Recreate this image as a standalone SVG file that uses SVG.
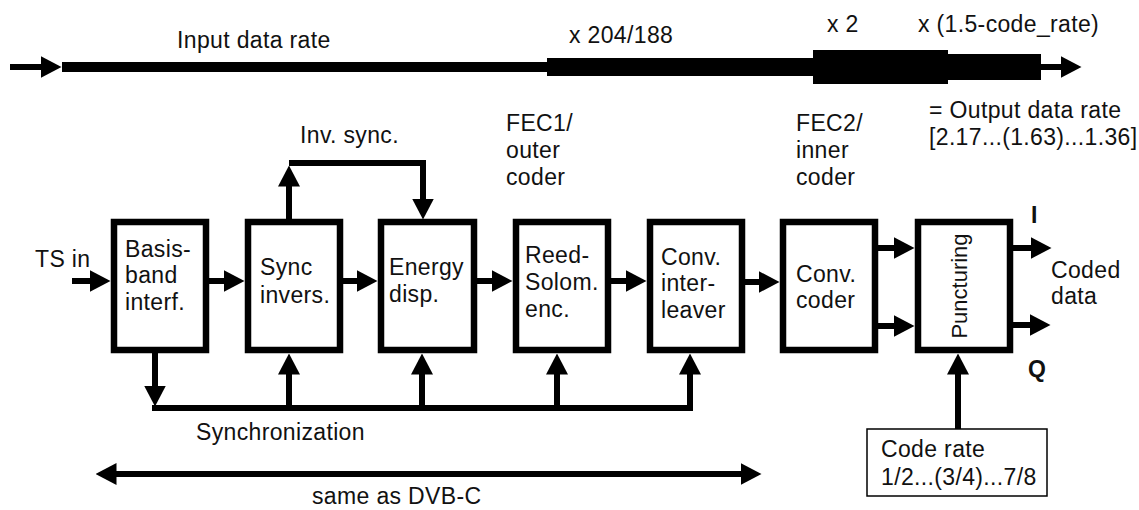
<svg xmlns="http://www.w3.org/2000/svg" width="1139" height="510" viewBox="0 0 1139 510">
<style>
text{font-family:"Liberation Sans",Arial,sans-serif;font-size:23px;letter-spacing:0.35px;fill:#111}
.b{font-weight:bold}
.rot{font-size:22px;letter-spacing:0}
.box{fill:#fff;stroke:#000;stroke-width:6.5}
.thin{fill:#fff;stroke:#000;stroke-width:1.5}
.c{fill:none;stroke:#000;stroke-width:6}
.bar{fill:#000}
</style>
<defs>
<marker id="ah" viewBox="0 -11 21 22" refX="0.5" refY="0" markerWidth="21" markerHeight="22" markerUnits="userSpaceOnUse" orient="auto-start-reverse">
<path d="M0,-11 L21,0 L0,11 z" fill="#000"/>
</marker>
</defs>

<g id="rate-bar">
<line x1="10" y1="67" x2="41" y2="67" class="c" marker-end="url(#ah)"/>
<rect class="bar" x="62" y="62" width="486" height="10"/>
<rect class="bar" x="547" y="58" width="267" height="18"/>
<rect class="bar" x="813" y="50" width="135" height="34"/>
<rect class="bar" x="947" y="54" width="94" height="26"/>
<line x1="1040" y1="67" x2="1061" y2="67" class="c" marker-end="url(#ah)"/>
<text x="177" y="48">Input data rate</text>
<text x="569" y="43">x 204/188</text>
<text x="827" y="32">x 2</text>
<text x="918" y="32">x (1.5-code_rate)</text>
<text x="929" y="118">= Output data rate</text>
<text x="929" y="145">[2.17...(1.63)...1.36]</text>
</g>

<g id="labels">
<text x="506" y="131">FEC1/</text>
<text x="506" y="158">outer</text>
<text x="506" y="185">coder</text>
<text x="796" y="131">FEC2/</text>
<text x="796" y="158">inner</text>
<text x="796" y="185">coder</text>
<text x="300" y="143">Inv. sync.</text>
<text x="35" y="267">TS in</text>
<text x="196" y="440">Synchronization</text>
<text x="312" y="504">same as DVB-C</text>
<text class="b" x="1031" y="223">I</text>
<text class="b" x="1028" y="377">Q</text>
<text x="1051" y="278">Coded</text>
<text x="1051" y="304">data</text>
</g>

<g id="basisband">
<rect class="box" x="114" y="222" width="92" height="128"/>
<text x="125" y="257">Basis-</text>
<text x="125" y="283">band</text>
<text x="125" y="310">interf.</text>
</g>
<g id="sync-invers">
<rect class="box" x="248" y="222" width="92" height="128"/>
<text x="260" y="275">Sync</text>
<text x="260" y="303">invers.</text>
</g>
<g id="energy-disp">
<rect class="box" x="381" y="222" width="93" height="128"/>
<text x="389" y="275">Energy</text>
<text x="389" y="302">disp.</text>
</g>
<g id="reed-solomon">
<rect class="box" x="516" y="222" width="92" height="128"/>
<text x="525" y="263">Reed-</text>
<text x="525" y="290">Solom.</text>
<text x="525" y="317">enc.</text>
</g>
<g id="conv-interleaver">
<rect class="box" x="650" y="222" width="92" height="128"/>
<text x="661" y="265">Conv.</text>
<text x="661" y="291">inter-</text>
<text x="661" y="318">leaver</text>
</g>
<g id="conv-coder">
<rect class="box" x="783" y="222" width="92" height="128"/>
<text x="796" y="282">Conv.</text>
<text x="796" y="308">coder</text>
</g>
<g id="puncturing">
<rect class="box" x="918" y="222" width="92" height="128"/>
<text class="rot" x="0" y="0" transform="translate(967,286) rotate(-90)" text-anchor="middle">Puncturing</text>
</g>
<g id="code-rate">
<rect class="thin" x="867" y="429" width="180" height="67"/>
<text x="881" y="457">Code rate</text>
<text x="881" y="485">1/2...(3/4)...7/8</text>
</g>

<g id="connectors">
<line class="c" x1="72" y1="281" x2="90" y2="281" marker-end="url(#ah)"/>
<line class="c" x1="209" y1="281" x2="224" y2="281" marker-end="url(#ah)"/>
<line class="c" x1="343" y1="281" x2="357" y2="281" marker-end="url(#ah)"/>
<line class="c" x1="477" y1="281" x2="492" y2="281" marker-end="url(#ah)"/>
<line class="c" x1="611" y1="281" x2="626" y2="281" marker-end="url(#ah)"/>
<line class="c" x1="745" y1="282" x2="759" y2="282" marker-end="url(#ah)"/>
<line class="c" x1="878" y1="248" x2="894" y2="248" marker-end="url(#ah)"/>
<line class="c" x1="878" y1="326" x2="894" y2="326" marker-end="url(#ah)"/>
<line class="c" x1="1013" y1="248" x2="1031" y2="248" marker-end="url(#ah)"/>
<line class="c" x1="1013" y1="325" x2="1030" y2="325" marker-end="url(#ah)"/>
<line class="c" x1="958" y1="429" x2="958" y2="374" marker-end="url(#ah)"/>
<line class="c" x1="155" y1="353" x2="155" y2="386" marker-end="url(#ah)"/>
<line class="c" x1="152" y1="408" x2="693" y2="408" stroke-width="5"/>
<line class="c" x1="289" y1="408" x2="289" y2="374" marker-end="url(#ah)"/>
<line class="c" x1="422" y1="408" x2="422" y2="374" marker-end="url(#ah)"/>
<line class="c" x1="557" y1="408" x2="557" y2="374" marker-end="url(#ah)"/>
<line class="c" x1="690" y1="408" x2="690" y2="374" marker-end="url(#ah)"/>
<line class="c" x1="289" y1="220" x2="289" y2="186" marker-end="url(#ah)"/>
<path class="c" d="M289,163 H423 V199" stroke-width="5" marker-end="url(#ah)"/>
<line class="c" x1="116" y1="474" x2="741" y2="474" stroke-width="4.5" marker-start="url(#ah)" marker-end="url(#ah)"/>
</g>
</svg>
